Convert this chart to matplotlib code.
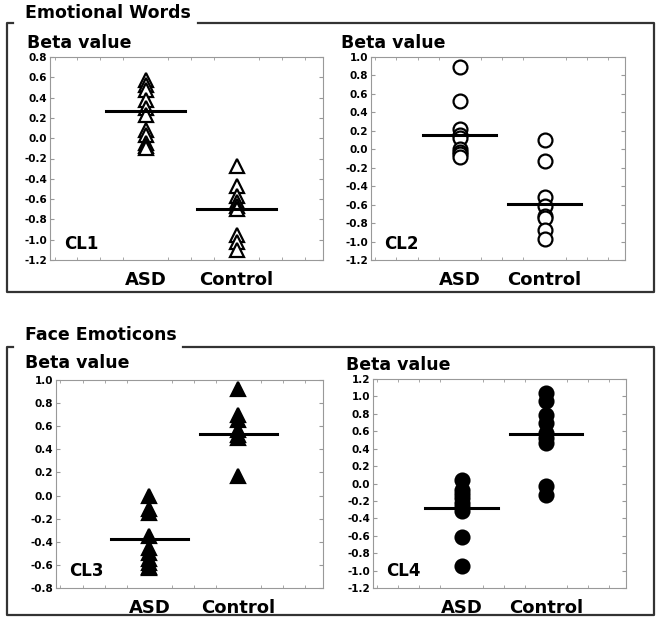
import matplotlib
matplotlib.use("Agg")
import matplotlib.pyplot as plt
from matplotlib.lines import Line2D

W, H = 662, 623

groups = ["ASD", "Control"]

cl1_asd = [0.57, 0.52, 0.47, 0.38, 0.30, 0.23, 0.08, 0.03, -0.05, -0.08, -0.10]
cl1_ctl = [-0.27, -0.47, -0.57, -0.63, -0.67, -0.70, -0.95, -1.02, -1.10]
cl1_mean = [0.27, -0.70]

cl2_asd = [0.89, 0.52, 0.22, 0.15, 0.12, 0.0, -0.03, -0.05, -0.08]
cl2_ctl = [0.10, -0.13, -0.52, -0.62, -0.72, -0.75, -0.87, -0.97]
cl2_mean = [0.16, -0.59]

cl3_asd = [0.0, -0.12, -0.15, -0.35, -0.45, -0.50, -0.55, -0.58, -0.62, -0.63]
cl3_ctl = [0.92, 0.70, 0.65, 0.57, 0.52, 0.50, 0.17]
cl3_mean = [-0.38, 0.53]

cl4_asd = [0.04, -0.08, -0.12, -0.17, -0.22, -0.27, -0.32, -0.62, -0.95]
cl4_ctl = [1.04, 0.95, 0.79, 0.70, 0.58, 0.52, 0.47, -0.03, -0.13]
cl4_mean = [-0.28, 0.57]

fig = plt.figure(figsize=(W / 100, H / 100), dpi=100)


def px_axes(left, top, right, bottom):
    return fig.add_axes([left / W, 1 - bottom / H, (right - left) / W, (bottom - top) / H])


def fig_line(xs, ys, lw=1.6):
    fig.add_artist(Line2D([x / W for x in xs], [1 - y / H for y in ys],
                          transform=fig.transFigure, color="#333333", lw=lw))


def fig_text(x, y, s, size):
    fig.text(x / W, 1 - y / H, s, fontsize=size, fontweight="bold",
             ha="left", va="center")


def panel(ax, asd, ctl, means, ylim, label, marker, fill):
    face = "black" if fill else "white"
    for i, vals in enumerate([asd, ctl]):
        ax.plot([i + 1] * len(vals), vals, ls="none", marker=marker, ms=10,
                mfc=face, mec="black", mew=1.6, zorder=3)
        ax.plot([i + 1 - 0.43, i + 1 + 0.43], [means[i]] * 2, color="black",
                lw=2.2, zorder=4)
    ax.set_xlim(-0.05, 2.95)
    ax.set_ylim(*ylim)
    ax.set_yticks([round(ylim[0] + 0.2 * k, 1) for k in range(int(round((ylim[1] - ylim[0]) / 0.2)) + 1)])
    ax.set_yticklabels([f"{t:.1f}" for t in ax.get_yticks()], fontsize=7.5, fontweight="bold")
    ax.set_xticks([1, 2])
    ax.set_xticklabels(groups, fontsize=13, fontweight="bold")
    ax.set_xticks([0.25 * k for k in range(12)], minor=True)
    ax.tick_params(axis="x", which="major", length=0, pad=8)
    ax.tick_params(axis="y", which="major", direction="in", length=3, pad=2,
                   right=True, color="#999999")
    ax.tick_params(axis="x", which="minor", direction="in", length=2,
                   top=True, color="#999999")
    for sp in ax.spines.values():
        sp.set_color("#999999")
        sp.set_linewidth(0.8)
    ax.text(0.05, 0.08, label, transform=ax.transAxes, fontsize=12,
            fontweight="bold", ha="left", va="center")


ax1 = px_axes(50, 57, 323, 260)
panel(ax1, cl1_asd, cl1_ctl, cl1_mean, (-1.2, 0.8), "CL1", "^", False)
ax2 = px_axes(371, 57, 625, 260)
panel(ax2, cl2_asd, cl2_ctl, cl2_mean, (-1.2, 1.0), "CL2", "o", False)
ax3 = px_axes(56, 380, 323, 588)
panel(ax3, cl3_asd, cl3_ctl, cl3_mean, (-0.8, 1.0), "CL3", "^", True)
ax4 = px_axes(373, 379, 626, 588)
panel(ax4, cl4_asd, cl4_ctl, cl4_mean, (-1.2, 1.2), "CL4", "o", True)

# outer boxes with titles
fig_line([13, 7, 7, 654, 654, 198], [23, 23, 292, 292, 23, 23])
fig_line([13, 7, 7, 654, 654, 183], [347, 347, 615, 615, 347, 347])
fig_text(25, 13, "Emotional Words", 12.5)
fig_text(25, 335, "Face Emoticons", 12.5)

for x, y in [(27, 43), (341, 43), (25, 363), (346, 365)]:
    fig_text(x, y, "Beta value", 12.5)

fig.savefig("out.png", dpi=100)
